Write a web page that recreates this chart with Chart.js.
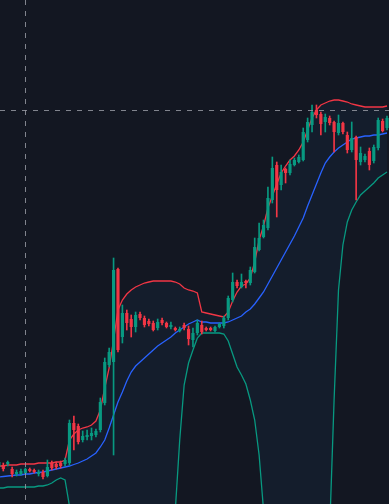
<!DOCTYPE html>
<html>
<head>
<meta charset="utf-8">
<script src="https://cdn.jsdelivr.net/npm/chart.js"></script>
<style>
  html, body { margin: 0; padding: 0; background: #131722; overflow: hidden; }
  #wrap { width: 389px; height: 504px; position: relative; }
</style>
</head>
<body>
<div id="wrap"><canvas id="priceChart"></canvas></div>
<script>
const opens = [
  13.3, 13.5, 13.6, 13.1, 12.6, 12.6, 12.7, 13.1, 13.0, 12.6,
  12.8, 12.4, 13.7, 13.6, 13.7, 13.6, 13.7, 17.7, 17.4, 16.0,
  16.3, 16.4, 16.5, 17.0, 19.7, 23.5, 23.8, 33.1, 26.3, 28.7,
  28.1, 27.3, 28.6, 28.2, 27.9, 27.7, 27.2, 28.0, 27.7, 27.3,
  27.2, 26.9, 27.5, 27.1, 26.0, 26.7, 27.5, 27.2, 27.2, 26.9,
  27.3, 27.4, 28.2, 30.0, 31.8, 31.3, 31.9, 31.7, 32.8, 35.0,
  36.3, 37.2, 40.0, 43.5, 41.5, 43.1, 42.7, 43.5, 43.8, 44.0,
  46.0, 47.5, 49.0, 48.6, 47.8, 48.2, 47.8, 46.7, 47.7, 46.5,
  45.0, 46.3, 43.8, 44.0, 44.9, 43.9, 45.2, 47.9, 47.2
];
const highs = [
  14.0, 13.7, 13.9, 13.3, 13.0, 13.1, 13.2, 13.2, 13.1, 13.0,
  13.0, 14.0, 13.9, 13.8, 13.9, 14.2, 18.0, 18.4, 17.6, 16.9,
  17.0, 17.2, 17.1, 20.2, 24.2, 25.2, 34.2, 33.2, 29.5, 29.0,
  28.5, 28.8, 28.8, 28.4, 28.1, 27.9, 28.1, 28.2, 27.8, 27.8,
  27.3, 27.3, 27.7, 27.4, 27.2, 28.0, 27.9, 27.3, 27.3, 27.4,
  27.7, 28.4, 30.4, 32.7, 32.0, 32.6, 32.0, 33.3, 36.2, 37.7,
  38.0, 41.3, 44.3, 43.8, 43.5, 43.2, 44.0, 44.2, 44.5, 47.2,
  48.2, 49.5, 49.5, 48.8, 48.6, 48.4, 47.9, 48.5, 47.8, 46.8,
  47.8, 46.4, 45.3, 44.6, 45.2, 45.5, 48.2, 48.1, 48.4
];
const lows = [
  13.2, 12.9, 13.4, 12.3, 12.4, 12.5, 12.6, 12.8, 12.7, 12.4,
  12.1, 12.3, 13.0, 13.1, 13.2, 13.4, 13.5, 15.0, 15.6, 15.8,
  16.0, 16.0, 16.3, 16.8, 19.5, 23.3, 14.5, 24.8, 25.7, 27.0,
  26.3, 26.8, 28.0, 27.3, 27.4, 26.9, 27.0, 27.5, 27.2, 27.1,
  26.9, 26.8, 27.0, 25.5, 25.3, 26.5, 26.6, 26.9, 26.9, 26.8,
  27.2, 27.2, 28.0, 29.8, 31.2, 31.2, 31.2, 31.5, 32.7, 34.9,
  36.2, 37.0, 39.7, 38.3, 41.0, 41.7, 42.5, 43.4, 43.7, 43.9,
  45.8, 46.8, 48.2, 46.5, 46.8, 47.5, 44.8, 46.5, 46.6, 44.7,
  44.8, 40.0, 43.5, 43.8, 43.0, 43.7, 45.0, 46.8, 47.0
];
const closes = [
  13.8, 13.1, 13.8, 12.6, 12.8, 12.9, 13.1, 12.9, 12.8, 12.8,
  12.3, 13.3, 13.2, 13.3, 13.4, 14.0, 17.7, 17.0, 15.8, 16.4,
  16.5, 16.7, 16.9, 19.8, 23.8, 24.8, 33.0, 25.0, 28.7, 27.7,
  27.3, 28.5, 28.2, 27.5, 27.6, 27.0, 27.8, 27.7, 27.3, 27.5,
  27.0, 27.1, 27.2, 26.1, 26.7, 27.7, 26.8, 27.0, 27.0, 27.3,
  27.6, 28.2, 30.2, 31.8, 31.4, 31.8, 31.7, 33.0, 35.3, 36.2,
  37.5, 40.2, 43.2, 41.0, 42.8, 42.7, 43.6, 44.0, 44.3, 46.8,
  47.8, 48.8, 48.5, 47.6, 48.3, 47.7, 46.8, 47.7, 46.8, 45.0,
  46.2, 44.0, 44.7, 44.4, 43.5, 45.3, 48.0, 46.9, 48.2
];
const upperBand = [
  13.4, 13.4, 13.5, 13.5, 13.5, 13.6, 13.6, 13.6, 13.6, 13.7,
  13.7, 13.7, 13.7, 13.8, 13.8, 14.0, 16.0, 16.6, 17.0, 17.2,
  17.3, 17.5, 17.9, 19.0, 21.2, 23.2, 26.0, 29.0, 30.0, 30.6,
  31.0, 31.3, 31.5, 31.7, 31.8, 31.9, 31.9, 31.9, 31.9, 31.9,
  31.8, 31.6, 31.2, 31.0, 30.9, 30.7, 28.8, 28.7, 28.6, 28.5,
  28.4, 28.3, 28.8, 29.9, 30.8, 31.4, 31.6, 32.2, 33.8, 36.0,
  37.4, 39.2, 40.4, 41.6, 42.7, 43.4, 44.0, 44.4, 45.0, 45.8,
  47.0, 48.2, 49.0, 49.5, 49.7, 49.9, 50.0, 50.0, 49.9, 49.8,
  49.6, 49.5, 49.4, 49.3, 49.3, 49.3, 49.3, 49.3, 49.4
];
const basis = [
  12.3, 12.35, 12.4, 12.45, 12.5, 12.5, 12.6, 12.6, 12.7, 12.75,
  12.8, 12.9, 13.0, 13.1, 13.2, 13.3, 13.4, 13.55, 13.7, 13.9,
  14.1, 14.4, 14.7, 15.3, 16.0, 17.2, 18.5, 19.8, 20.8, 21.9,
  22.8, 23.4, 23.8, 24.2, 24.6, 25.0, 25.4, 25.7, 26.0, 26.3,
  26.7, 27.0, 27.3, 27.6, 27.8, 28.0, 27.8, 27.8, 27.7, 27.7,
  27.7, 27.7, 27.8, 28.0, 28.2, 28.4, 28.8, 29.1, 29.6, 30.2,
  30.8, 31.6, 32.4, 33.2, 34.0, 34.8, 35.6, 36.4, 37.3, 38.2,
  39.4, 40.5, 41.6, 42.7, 43.7, 44.3, 44.8, 45.2, 45.5, 45.8,
  46.1, 46.2, 46.3, 46.4, 46.4, 46.5, 46.5, 46.6, 46.7
];
const lowerBand = [
  11.2, 11.2, 11.3, 11.3, 11.3, 11.3, 11.3, 11.3, 11.3, 11.4,
  11.4, 11.5, 11.7, 12.0, 12.2, 12.0, 9.4, 8.8, 8.4, 8.0,
  7.6, 7.2, 6.6, 5.6, 4.0, 2.0, 3.0, 2.0, 2.0, 2.5,
  3.0, 3.5, 4.0, 4.5, 5.0, 5.5, 6.0, 6.5, 7.0, 7.5,
  9.0, 16.0, 21.5, 23.7, 25.0, 26.2, 26.7, 26.7, 26.7, 26.7,
  26.7, 26.6, 25.9, 24.6, 23.3, 22.5, 21.6, 20.0, 18.0, 14.5,
  9.0, 6.0, 4.0, 3.0, 2.5, 2.0, 2.0, 2.0, 2.0, 2.5,
  3.0, 3.5, 4.0, 4.5, 6.0, 7.0, 20.0, 31.0, 35.5, 37.8,
  39.0, 39.8, 40.5, 40.9, 41.3, 41.7, 42.2, 42.5, 42.8
];
const crossIndex = 6;
const crossPrice = 49.0;

const upColor = '#089981';
const downColor = '#f23645';

const candleColors = opens.map((o, i) => closes[i] >= o ? upColor : downColor);
const bodies = opens.map((o, i) => ({ x: i, y: [o, closes[i]] }));
const wicks = lows.map((l, i) => ({ x: i, y: [l, highs[i]] }));
const toPoints = arr => arr.map((v, i) => ({ x: i, y: v }));

const crosshair = {
  id: 'crosshair',
  afterDatasetsDraw(chart) {
    const { ctx, chartArea, scales } = chart;
    const px = Math.round(scales.x.getPixelForValue(crossIndex)) + 0.5;
    const py = Math.round(scales.y.getPixelForValue(crossPrice)) + 0.5;
    ctx.save();
    ctx.strokeStyle = 'rgba(149,152,161,0.85)';
    ctx.lineWidth = 1;
    ctx.setLineDash([5, 6]);
    ctx.beginPath();
    ctx.moveTo(px, chartArea.top);
    ctx.lineTo(px, chartArea.bottom);
    ctx.moveTo(chartArea.left, py);
    ctx.lineTo(chartArea.right, py);
    ctx.stroke();
    ctx.restore();
  }
};

new Chart(document.getElementById('priceChart'), {
  type: 'bar',
  data: {
    datasets: [
      {
        type: 'bar',
        data: wicks,
        backgroundColor: candleColors,
        barThickness: 1,
        grouped: false,
        order: 1
      },
      {
        type: 'bar',
        data: bodies,
        backgroundColor: candleColors,
        barPercentage: 0.72,
        categoryPercentage: 1,
        minBarLength: 1,
        grouped: false,
        order: 0
      },
      {
        type: 'line',
        data: toPoints(upperBand),
        borderColor: downColor,
        borderWidth: 1.3,
        pointRadius: 0,
        fill: { target: 4 },
        backgroundColor: 'rgba(33,150,243,0.05)',
        order: 3
      },
      {
        type: 'line',
        data: toPoints(basis),
        borderColor: '#2962ff',
        borderWidth: 1.3,
        pointRadius: 0,
        fill: false,
        order: 2
      },
      {
        type: 'line',
        data: toPoints(lowerBand),
        borderColor: upColor,
        borderWidth: 1.3,
        pointRadius: 0,
        fill: false,
        order: 2
      }
    ]
  },
  options: {
    responsive: true,
    maintainAspectRatio: false,
    animation: false,
    layout: { padding: 0 },
    plugins: {
      legend: { display: false },
      tooltip: { enabled: false }
    },
    scales: {
      x: { type: 'linear', min: 0.25, max: 88.45, offset: false, display: false },
      y: { min: 9.6, max: 60, display: false }
    }
  },
  plugins: [crosshair]
});
</script>
</body>
</html>
